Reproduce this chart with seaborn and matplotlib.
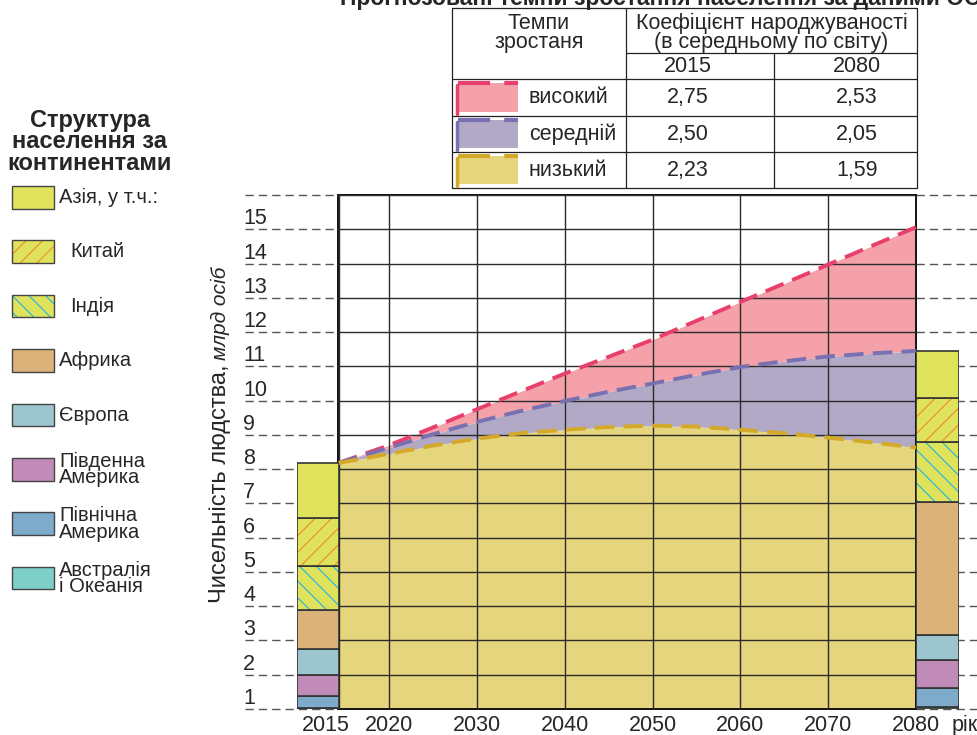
import matplotlib
matplotlib.use("Agg")
import matplotlib.pyplot as plt
from matplotlib.patches import Rectangle
from matplotlib.transforms import offset_copy
import numpy as np
import seaborn as sns

# --- data -------------------------------------------------------------
years = [2015, 2020, 2025, 2030, 2035, 2040, 2045, 2050, 2055, 2060, 2065, 2070, 2075, 2080]
pop_high = [7.18, 7.70, 8.22, 8.75, 9.27, 9.79, 10.28, 10.78, 11.33, 11.88, 12.42, 12.97, 13.52, 14.06]
pop_medium = [7.18, 7.63, 8.02, 8.38, 8.70, 8.99, 9.26, 9.50, 9.75, 9.98, 10.15, 10.29, 10.38, 10.45]
pop_low = [7.18, 7.45, 7.69, 7.89, 8.05, 8.15, 8.23, 8.27, 8.24, 8.15, 8.05, 7.92, 7.78, 7.63]

grid_years = [2015, 2020, 2030, 2040, 2050, 2060, 2070, 2080]
y_tick_labels = [str(i) for i in range(1, 16)]

scenario_names = ["високий", "середній", "низький"]
tfr_2015 = [2.75, 2.50, 2.23]
tfr_2080 = [2.53, 2.05, 1.59]

# stacking order, bottom -> top
regions = ["Австралія\nі Океанія", "Північна\nАмерика", "Південна\nАмерика", "Європа",
           "Африка", "Індія", "Китай", "Азія, у т.ч.:"]
region_2015 = [0.04, 0.34, 0.62, 0.76, 1.13, 1.28, 1.41, 1.60]
region_2080 = [0.07, 0.54, 0.83, 0.73, 3.87, 1.75, 1.28, 1.39]

# --- style ------------------------------------------------------------
sns.set_style("white")
plt.rcParams["font.family"] = ["Liberation Sans Narrow", "Liberation Sans", "DejaVu Sans"]
plt.rcParams["hatch.linewidth"] = 0.8

W, H = 978, 735
GRID = "#2b2b2b"
BOLD = ["Liberation Sans", "DejaVu Sans"]
region_colors = ["#7dcfc8", "#7eabc9", "#c18bb8", "#9cc5cf", "#dab27a", "#dfe35b", "#dfe35b", "#dfe35b"]
region_hatch = [None, None, None, None, None, "\\\\", "//", None]
hatch_colors = [None, None, None, None, None, "#20b4e8", "#f0892e", None]
fill_colors = ["#f5a1a9", "#b1a9c5", "#e5d67e"]
line_colors = ["#e8406c", "#7870b0", "#d4a92a"]
DASH = (0, (5, 2.4))


def fig_rect(x0, y0, x1, y1):
    return [x0 / W, 1 - y1 / H, (x1 - x0) / W, (y1 - y0) / H]


fig = plt.figure(figsize=(W / 100, H / 100), dpi=100)

# --- main area --------------------------------------------------------
stretch = 51 / 44  # 2015-2020 span is drawn wider than the other 5-year steps


def fwd(x):
    x = np.asarray(x, float)
    return np.where(x < 2020, 2020 - (2020 - x) * stretch, x)


def inv(x):
    x = np.asarray(x, float)
    return np.where(x < 2020, 2020 - (2020 - x) / stretch, x)


ax = fig.add_axes(fig_rect(338.5, 195, 916, 709))
ax.set_xscale("function", functions=(fwd, inv))
ax.set_xlim(2015, 2080)
ax.set_ylim(0, 15)

ax.fill_between(years, 0, pop_low, color=fill_colors[2], lw=0, zorder=1)
ax.fill_between(years, pop_low, pop_medium, color=fill_colors[1], lw=0, zorder=1)
ax.fill_between(years, pop_medium, pop_high, color=fill_colors[0], lw=0, zorder=1)

for vals, col in zip([pop_high, pop_medium, pop_low], line_colors):
    sns.lineplot(x=years, y=vals, ax=ax, color=col, lw=2.8, linestyle=DASH, zorder=4)

ax.set_xticks(grid_years)
ax.set_yticks(range(16))
ax.grid(True, color=GRID, lw=1.0)
ax.set_axisbelow(False)
ax.tick_params(length=0, labelleft=False, labelbottom=False)
for sp in ax.spines.values():
    sp.set_color("#111111")
    sp.set_linewidth(1.4)

# dashed guide lines outside the grid
ytr = ax.get_yaxis_transform()
for yv in range(16):
    ax.plot([-0.162, 0], [yv, yv], transform=ytr, clip_on=False, color="#555555",
            lw=1.0, linestyle=(0, (6, 3.6)), zorder=0)
    ax.plot([1, 1.11], [yv, yv], transform=ytr, clip_on=False, color="#555555",
            lw=1.0, linestyle=(0, (6, 3.6)), zorder=0)

for i, lab in enumerate(y_tick_labels):
    ax.text(-0.165, i, lab, transform=ytr, ha="left", va="bottom", fontsize=15.5, clip_on=False)

xtr = ax.get_xaxis_transform()
for yr in grid_years:
    tr = offset_copy(xtr, fig=fig, x=-13 if yr == 2015 else 0, y=0, units="dots")
    ax.text(yr, -0.012, str(yr), transform=tr, ha="center", va="top", fontsize=15.5)
ax.text(1.062, -0.012, "рік", transform=ax.transAxes, ha="left", va="top", fontsize=15.5)


# --- stacked bars -----------------------------------------------------
def stacked_bar(bax, values):
    bax.set_xlim(-0.5, 0.5)
    bax.set_ylim(0, 15)
    bax.axis("off")
    bottom = 0.0
    for v, fc, hp, hc in zip(values, region_colors, region_hatch, hatch_colors):
        if hp:
            bax.bar(0, v, bottom=bottom, width=1, color=fc, hatch=hp, edgecolor=hc, lw=0)
            bax.bar(0, v, bottom=bottom, width=1, facecolor="none", edgecolor="#333333", lw=1.2)
        else:
            bax.bar(0, v, bottom=bottom, width=1, color=fc, edgecolor="#333333", lw=1.2)
        bottom += v


ax_l = fig.add_axes(fig_rect(297, 195, 339, 709))
stacked_bar(ax_l, region_2015)
ax_r = fig.add_axes(fig_rect(916, 195, 959, 709))
stacked_bar(ax_r, region_2080)

# --- overlay: title, legend, table, axis title ------------------------
ov = fig.add_axes([0, 0, 1, 1])
ov.set_xlim(0, W)
ov.set_ylim(H, 0)
ov.axis("off")
ov.patch.set_alpha(0)

ov.text(340, 4.5, "Прогнозовані темпи зростання населення за даними ООН", ha="left",
        va="baseline", fontsize=16.5, fontweight="bold", family=BOLD)

for k, line in enumerate(["Структура", "населення за", "континентами"]):
    ov.text(90, 120 + 21.7 * k, line, ha="center", va="center", fontsize=17,
            fontweight="bold", family=BOLD)

for k, idx in enumerate(range(len(regions) - 1, -1, -1)):
    y0 = 186 + 54.4 * k
    fc, hp, hc = region_colors[idx], region_hatch[idx], hatch_colors[idx]
    if hp:
        ov.add_patch(Rectangle((12, y0), 42, 22.5, facecolor=fc, hatch=hp, edgecolor=hc, lw=0))
        ov.add_patch(Rectangle((12, y0), 42, 22.5, facecolor="none", edgecolor="#444444", lw=1.0))
    else:
        ov.add_patch(Rectangle((12, y0), 42, 22.5, facecolor=fc, edgecolor="#444444", lw=1.0))
    tx = 70 if hp else 59
    ov.text(tx, y0 + 11.5, regions[idx], ha="left", va="center", fontsize=14.5, linespacing=0.82)

# axis title, mixed upright / italic
ov.text(220, 484, "Чисельність людства,", rotation=90, ha="center", va="center", fontsize=17)
ov.text(220, 313, "млрд осіб", rotation=90, ha="center", va="center", fontsize=15, style="italic")

# table
tl, tr_, tt, tb = 452, 917, 8, 188
c1, c2 = 626, 774
rows = [79, 115.7, 152.3, 188]
tkw = dict(color="#222222", lw=0.9)
ov.plot([tl, tr_, tr_, tl, tl], [tt, tt, tb, tb, tt], **tkw)
ov.plot([c1, c1], [tt, tb], **tkw)
ov.plot([c2, c2], [53, tb], **tkw)
ov.plot([c1, tr_], [53, 53], **tkw)
for ry in rows[:-1]:
    ov.plot([tl, tr_], [ry, ry], **tkw)

ov.text((tl + c1) / 2, 33, "Темпи\nзростаня", ha="center", va="center", fontsize=15.5, linespacing=0.9)
ov.text((c1 + tr_) / 2, 33, "Коефіцієнт народжуваності\n(в середньому по світу)", ha="center",
        va="center", fontsize=15.5, linespacing=0.9)
ov.text(688, 66, "2015", ha="center", va="center", fontsize=15.5)
ov.text(857, 66, "2080", ha="center", va="center", fontsize=15.5)

for i, name in enumerate(scenario_names):
    top, bot = rows[i], rows[i + 1]
    mid = (top + bot) / 2
    ov.add_patch(Rectangle((458, top + 4), 60, bot - top - 8, facecolor=fill_colors[i], lw=0))
    ov.plot([458, 518], [top + 4, top + 4], color=line_colors[i], lw=3, linestyle=(0, (7.7, 3.4)),
            solid_capstyle="butt")
    ov.plot([457, 457], [top + 6, bot - 2], color=line_colors[i], lw=2.5)
    ov.text(529, mid, name, ha="left", va="center", fontsize=15.5)
    ov.text(688, mid, f"{tfr_2015[i]:.2f}".replace(".", ","), ha="center", va="center", fontsize=15.5)
    ov.text(857, mid, f"{tfr_2080[i]:.2f}".replace(".", ","), ha="center", va="center", fontsize=15.5)

fig.savefig("out.png", dpi=100)
